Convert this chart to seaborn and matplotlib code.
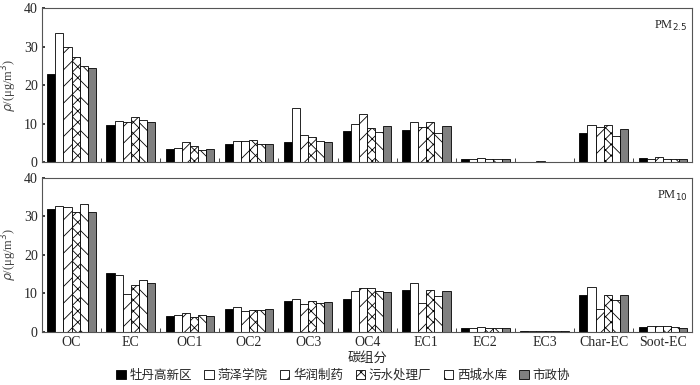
import numpy as np
import pandas as pd
import matplotlib
matplotlib.use("Agg")
import matplotlib.pyplot as plt
import seaborn as sns

categories = ["OC", "EC", "OC1", "OC2", "OC3", "OC4", "EC1", "EC2", "EC3", "Char-EC", "Soot-EC"]
sites = ["牡丹高新区", "菏泽学院", "华润制药", "污水处理厂", "西城水库", "市政协"]

pm25_mudan   = [23.0, 9.6, 3.3, 4.7, 5.3, 8.2, 8.4, 0.9, 0.1, 7.6, 1.0]
pm25_xueyuan = [33.4, 10.6, 3.6, 5.4, 14.1, 9.9, 10.4, 0.7, 0.1, 9.7, 0.8]
pm25_huarun  = [29.8, 10.3, 5.3, 5.4, 7.1, 12.4, 9.1, 1.1, 0.2, 9.2, 1.4]
pm25_wushui  = [27.2, 11.7, 4.1, 5.8, 6.6, 8.8, 10.4, 0.7, 0.1, 9.7, 0.9]
pm25_xicheng = [25.0, 10.9, 3.2, 4.6, 5.5, 7.7, 7.5, 0.7, 0.1, 6.8, 0.8]
pm25_shizheng = [24.4, 10.3, 3.3, 4.8, 5.3, 9.3, 9.4, 0.7, 0.1, 8.6, 0.9]

pm10_mudan   = [32.0, 15.3, 4.0, 6.0, 7.9, 8.5, 10.9, 1.1, 0.2, 9.6, 1.3]
pm10_xueyuan = [32.8, 14.7, 4.3, 6.4, 8.6, 10.5, 12.8, 1.1, 0.1, 11.6, 1.4]
pm10_huarun  = [32.4, 9.9, 5.0, 5.3, 7.2, 11.3, 7.4, 1.3, 0.3, 5.9, 1.6]
pm10_wushui  = [31.1, 12.1, 3.8, 5.7, 8.0, 11.5, 10.8, 1.0, 0.2, 9.6, 1.4]
pm10_xicheng = [33.1, 13.5, 4.3, 5.7, 7.6, 10.5, 9.4, 1.0, 0.2, 8.2, 1.2]
pm10_shizheng = [31.1, 12.8, 4.0, 5.9, 7.7, 10.3, 10.5, 1.0, 0.1, 9.6, 1.1]

pm25 = [pm25_mudan, pm25_xueyuan, pm25_huarun, pm25_wushui, pm25_xicheng, pm25_shizheng]
pm10 = [pm10_mudan, pm10_xueyuan, pm10_huarun, pm10_wushui, pm10_xicheng, pm10_shizheng]

colors = ["#000000", "#ffffff", "#ffffff", "#ffffff", "#ffffff", "#808080"]
hatches = ["", "", "//", "xxx", "\\\\", ""]

sns.set_theme(style="ticks")
plt.rcParams["font.family"] = ["Liberation Serif", "Noto Sans CJK SC"]
plt.rcParams["hatch.linewidth"] = 0.6
plt.rcParams["axes.unicode_minus"] = False


def long_df(series):
    rows = []
    for s, vals in zip(sites, series):
        for c, v in zip(categories, vals):
            rows.append({"cat": c, "site": s, "val": v})
    return pd.DataFrame(rows)


fig = plt.figure(figsize=(7, 3.85), dpi=100)
ax1 = fig.add_axes([0.06, 0.579, 0.929, 0.400])
ax2 = fig.add_axes([0.06, 0.138, 0.929, 0.400])

for ax, series, lab in [(ax1, pm25, "PM$_{2.5}$"), (ax2, pm10, "PM$_{10}$")]:
    df = long_df(series)
    sns.barplot(data=df, x="cat", y="val", hue="site", order=categories,
                hue_order=sites, palette=colors, width=0.82, ax=ax,
                edgecolor="black", linewidth=0.6, legend=False, saturation=1)
    for cont, h in zip(ax.containers, hatches):
        for p in cont.patches:
            p.set_hatch(h)
    ax.set_ylim(0, 40)
    ax.set_xlim(-0.5, len(categories) - 0.5)
    ax.set_yticks([0, 10, 20, 30, 40])
    ax.set_ylabel(r"$\rho$/(μg/m$^3$)", fontsize=9, color="#444444", labelpad=4)
    ax.yaxis.set_label_coords(-0.035, 0.5)
    ax.set_xlabel("")
    for sp in ax.spines.values():
        sp.set_visible(True)
        sp.set_color("#555555")
        sp.set_linewidth(0.8)
    ax.tick_params(axis="y", direction="in", length=2, labelsize=10, pad=3)
    ax.tick_params(axis="x", which="major", length=0, labelsize=10, pad=3)
    ax.set_xticks(np.arange(len(categories)) + 0.5, minor=True)
    ax.tick_params(axis="x", which="minor", direction="in", length=3, width=0.6)
    ax.text(0.993, 0.93, lab, transform=ax.transAxes, ha="right", va="top", fontsize=9)

ax1.set_xticklabels([])
ax2.set_xticklabels(categories)
ax2.set_xlabel("碳组分", fontsize=9.5, labelpad=2)

handles = [cont for cont in ax2.containers]
fig.legend(handles, sites, loc="center", bbox_to_anchor=(0.49, 0.024), ncol=6,
           frameon=False, fontsize=9, handlelength=0.75, handleheight=0.75,
           handletextpad=0.3, columnspacing=1.0, borderpad=0.1)

fig.savefig("out.png", dpi=100)
